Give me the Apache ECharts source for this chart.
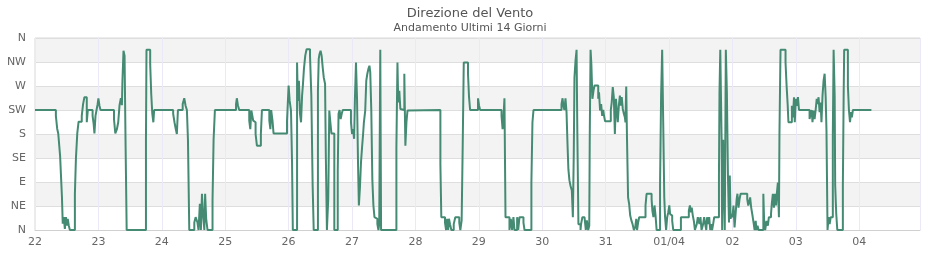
<!DOCTYPE html>
<html><head><meta charset="utf-8">
<script src="https://cdn.jsdelivr.net/npm/echarts@6/dist/echarts.min.js"></script>
<style>html,body{margin:0;padding:0;background:#fff}#c{width:940px;height:260px}</style>
</head><body><div id="c"></div>
<script>
const dayLabels = ['22','23','24','25','26','27','28','29','30','31','01/04','02','03','04'];
const dirLabels = ['N','NE','E','SE','S','SW','W','NW','N'];
// hours since 22 00:00 at which the direction changes
const hours = [
0,7.9,8.4,8.8,9.5,10.2,10.5,10.9,11.3,11.7,12.1,12.4,12.8,13.2,15.1,15.5,16.0,16.5,17.7,18.2,18.7,19.6,20.0,21.8,22.2,22.5,22.9,23.3,23.7,24.0,24.4,24.8,
29.9,30.4,31.0,31.5,32.0,32.5,32.9,33.1,33.5,33.9,34.3,34.7,
42.0,42.2,43.6,44.0,44.4,44.8,45.1,52.3,52.8,53.3,53.7,54.1,55.9,56.5,57.0,57.5,57.9,58.4,60.3,60.8,61.5,61.9,62.4,62.8,63.2,63.6,64.1,64.4,64.8,65.3,67.2,67.6,68.1,
76.1,76.4,76.8,77.3,81.1,81.5,81.9,82.2,82.6,83.1,83.5,84.0,85.5,85.9,88.7,89.1,89.4,89.9,90.3,95.4,95.8,96.0,96.4,96.9,97.3,97.6,
99.2,99.5,99.9,100.3,100.7,101.1,101.4,101.8,102.3,102.8,104.1,104.6,105.1,105.5,107.1,107.4,107.7,108.1,108.5,108.9,109.3,109.8,110.1,110.5,
111.0,111.4,111.8,112.2,113.3,114.6,114.9,115.3,115.7,116.1,116.5,119.6,120.0,120.4,120.8,121.1,121.5,121.9,122.3,122.6,123.0,123.4,123.8,124.2,124.5,
125.0,125.4,125.8,126.2,126.6,126.9,127.3,127.7,128.1,128.5,129.2,129.6,130.0,130.3,130.7,131.0,136.8,137.2,137.5,137.9,138.3,138.7,139.8,140.2,140.6,141.0,141.3,
153.45,153.8,155.2,155.6,156.0,156.4,156.7,157.1,157.6,158.5,159.1,160.6,161.0,161.5,161.9,162.3,163.9,164.3,164.7,167.7,168.1,168.5,
176.6,177.0,177.3,177.7,178.1,179.6,180.1,180.6,181.1,181.5,182.5,182.9,183.4,184.9,185.3,187.9,188.3,188.7,
199.3,199.7,200.0,200.4,200.8,201.2,201.55,201.9,202.3,202.7,203.2,203.6,203.95,204.2,204.6,205.0,205.3,205.7,206.5,206.7,207.2,208.0,208.5,208.9,209.4,209.8,
210.0,210.3,210.6,211.0,211.4,211.8,213.2,213.5,213.9,214.3,214.7,215.1,215.4,215.8,217.96,218.3,218.7,219.1,219.5,219.9,220.2,220.6,221.0,221.4,221.7,222.1,222.5,222.9,223.3,223.5,223.8,
224.1,224.5,224.9,225.3,225.8,226.2,226.7,227.2,227.6,227.9,228.3,228.7,231.1,231.5,233.4,233.7,234.1,234.5,234.9,235.3,236.6,237.0,237.4,237.8,238.2,238.5,238.9,239.3,239.7,240.1,240.4,240.8,241.2,241.6,
244.5,247.5,247.9,248.3,248.6,249.0,249.4,249.8,250.5,250.9,251.5,251.9,252.3,252.9,253.3,253.7,254.1,254.4,254.8,255.2,255.6,256.0,256.3,256.7,257.1,
258.9,259.1,259.4,259.9,260.1,260.5,260.8,261.1,261.5,261.9,262.3,262.7,263.0,263.3,263.7,264.0,264.4,264.8,265.2,265.6,265.9,266.3,266.7,267.1,269.6,270.0,270.7,271.1,271.5,272.0,272.4,272.8,273.1,273.5,273.9,
275.7,276.0,276.4,276.9,277.4,277.8,278.6,278.9,279.3,279.7,280.1,280.5,280.8,281.2,281.6,281.8,282.2,284.1,284.5,284.9,285.2,286.5,286.9,287.3,287.6,288.0,288.4,288.8,289.2,
293.2,293.6,294.0,294.3,294.7,295.1,295.5,295.9,296.2,296.6,297.0,297.4,297.7,298.1,298.5,298.9,299.3,299.6,300.0,300.4,300.8,301.2,302.0,302.3,302.7,302.9,303.3,303.7,
305.8,306.1,306.3,307.7,308.1,308.5,308.9,309.2,309.6,316.6
];
// wind direction in degrees (0 = N, 90 = E, 180 = S, 270 = W)
const degrees = [
225,214,190,181,139,62,12,24,2,24,8,21,8,0,68,135,181,203,214,236,249,202,225,214,199,181,214,225,236,247,233,225,
208,181,189,202,234,247,234,280,336,327,155,0,
169,338,311,255,218,202,225,218,202,189,180,225,236,247,233,225,169,0,14,24,14,0,49,0,68,30,0,68,21,0,55,169,225,
236,247,234,225,205,189,224,225,205,202,180,158,180,225,205,189,225,205,181,205,249,271,242,224,127,0,
314,242,280,218,202,252,271,302,327,339,327,252,83,0,261,321,330,336,327,305,286,274,136,0,
58,224,202,181,0,111,218,225,208,218,225,202,180,189,171,246,314,246,118,46,80,127,155,180,202,
224,280,293,302,308,296,224,93,46,24,21,11,0,11,338,0,155,314,239,261,227,225,293,158,202,224,225,
124,24,14,0,21,0,21,11,0,11,24,14,0,18,158,314,293,249,225,247,233,225,
214,189,208,247,24,0,21,0,24,0,24,0,24,14,0,89,202,225,
236,247,233,225,247,221,164,114,93,83,74,24,146,286,317,338,180,11,0,11,24,21,0,18,0,8,
180,338,311,246,261,271,246,258,224,236,214,225,214,204,225,239,268,249,180,246,227,202,233,252,233,249,227,218,211,202,269,
169,61,49,27,17,11,0,5,21,0,14,24,46,68,58,36,24,46,27,0,83,252,338,202,61,24,0,24,33,46,30,27,17,0,
24,36,46,33,42,27,17,0,11,24,11,24,0,11,24,11,0,24,11,24,0,11,0,11,24,
102,258,338,171,0,169,83,0,338,258,102,14,102,21,30,24,46,5,30,58,68,42,58,68,58,46,61,42,30,14,0,17,0,8,0,
68,17,0,17,8,24,30,49,68,42,68,46,68,89,24,180,338,314,271,236,202,233,211,249,202,246,233,249,225,
208,218,225,202,224,208,225,246,236,249,221,239,202,252,280,293,249,186,0,24,11,24,180,338,252,83,30,0,
83,252,338,271,225,202,221,211,225,225
];
const xMaxHours = 335;

const data = hours.map((h, i) => [h, degrees[i]]);
const chart = echarts.init(document.getElementById('c'), null, {renderer: 'canvas'});
const font = 'DejaVu Sans';
chart.setOption({
  animation: false,
  backgroundColor: '#ffffff',
  title: {
    text: 'Direzione del Vento',
    subtext: 'Andamento Ultimi 14 Giorni',
    left: 'center',
    top: 2,
    itemGap: 3,
    textStyle: {fontFamily: font, fontSize: 13, fontWeight: 'normal', color: '#555'},
    subtextStyle: {fontFamily: font, fontSize: 11, color: '#555'}
  },
  grid: {left: 35, right: 20, top: 38, bottom: 30, show: true, borderColor: '#d8d8d8', borderWidth: 1, backgroundColor: 'transparent'},
  xAxis: {
    type: 'value', min: 0, max: xMaxHours, interval: 24,
    axisLine: {show: true, lineStyle: {color: '#d0d0d0'}},
    axisTick: {show: false},
    axisLabel: {
      fontFamily: font, fontSize: 11, color: '#666', margin: 7, showMaxLabel: false,
      formatter: v => (v % 24 === 0 && dayLabels[v / 24] !== undefined) ? dayLabels[v / 24] : ''
    },
    splitLine: {show: true, lineStyle: {color: '#ebe8f8', width: 1}}
  },
  yAxis: {
    type: 'value', min: 0, max: 360, interval: 45,
    axisLine: {show: false}, axisTick: {show: false},
    axisLabel: {
      fontFamily: font, fontSize: 11, color: '#666', margin: 9,
      formatter: v => dirLabels[Math.round(v / 45)]
    },
    splitLine: {show: true, lineStyle: {color: '#dedede', width: 1}},
    splitArea: {show: true, areaStyle: {color: ['#ffffff', '#f3f3f3']}}
  },
  series: [{
    type: 'line', step: 'end', data: data, showSymbol: false, symbol: 'none',
    lineStyle: {color: '#458b74', width: 2}, itemStyle: {color: '#458b74'}
  }]
});
</script></body></html>
